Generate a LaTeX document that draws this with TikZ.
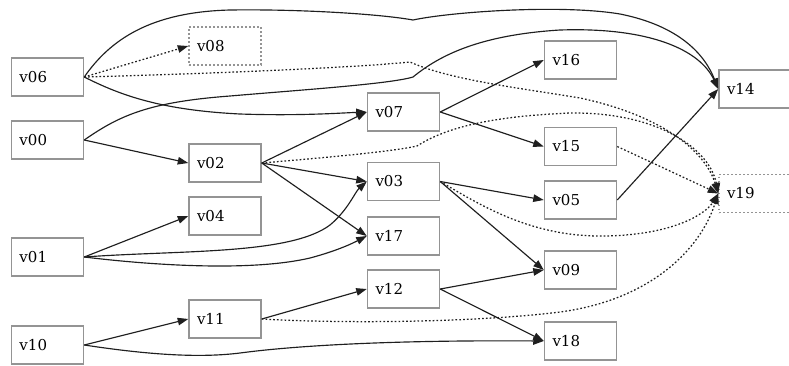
\documentclass[tikz,border=0pt]{standalone}
\usepackage{fontspec}
\setmainfont{DejaVu Serif}
\usetikzlibrary{arrows.meta}
\colorlet{boxline}{black!42}
\colorlet{edgeline}{black!88}
\tikzset{
	vbox/.style={draw=boxline, line width=1.5pt, minimum height=38pt, text width=56pt,
		inner xsep=8pt, inner ysep=0pt, align=left, font=\fontsize{15}{17}\selectfont},
	% nodes that are only reached by weak links
	vghost/.style={vbox, dash pattern=on 1.6pt off 2.4pt},
	link/.style={draw=edgeline, line width=1.15pt, -{Triangle[length=10.5pt, width=7.5pt]}},
	weak/.style={link, line width=1.25pt, dash pattern=on 1.7pt off 2.1pt}
}
\begin{document}
\begin{tikzpicture}[x=1pt, y=-1pt]
	\useasboundingbox (0,0) rectangle (789,365);
	% left column
	\node[vbox] (v06) at (47.5,77) {v06};
	\node[vbox] (v00) at (47.5,140) {v00};
	\node[vbox] (v01) at (47.5,257) {v01};
	\node[vbox] (v10) at (47.5,345) {v10};
	% second column
	\node[vghost] (v08) at (225,46) {v08};
	\node[vbox] (v02) at (225,163) {v02};
	\node[vbox] (v04) at (225,216) {v04};
	\node[vbox] (v11) at (225,319) {v11};
	% third column
	\node[vbox] (v07) at (403.5,112) {v07};
	\node[vbox] (v03) at (403.5,181.5) {v03};
	\node[vbox] (v17) at (403.5,236) {v17};
	\node[vbox] (v12) at (403.5,289) {v12};
	% fourth column
	\node[vbox] (v16) at (580.5,60) {v16};
	\node[vbox] (v15) at (580.5,146.5) {v15};
	\node[vbox] (v05) at (580.5,200) {v05};
	\node[vbox] (v09) at (580.5,270) {v09};
	\node[vbox] (v18) at (580.5,341) {v18};
	% last column
	\node[vbox] (v14) at (755,89) {v14};
	\node[vghost] (v19) at (755,193.5) {v19};

	% solid links
	\path[link] (v06.east) .. controls (110,40) and (150,12) .. (230,10)
		.. controls (300,9) and (380,14) .. (413,20)
		.. controls (450,12) and (560,4) .. (620,14)
		.. controls (680,26) and (705,55) .. (v14.west);
	\path[link] (v00.east) .. controls (120,115) and (150,102) .. (230,96)
		.. controls (300,90) and (390,84) .. (413,77)
		.. controls (440,55) and (480,35) .. (560,30)
		.. controls (650,27) and (700,50) .. (v14.west);
	\path[link] (v06.east) .. controls (120,95) and (160,110) .. (240,114)
		.. controls (300,116) and (340,113) .. (v07.west);
	\path[link] (v00.east) -- (v02.west);
	\path[link] (v02.east) -- (v07.west);
	\path[link] (v02.east) -- (v03.west);
	\path[link] (v02.east) -- (v17.west);
	\path[link] (v07.east) -- (v16.west);
	\path[link] (v07.east) -- (v15.west);
	\path[link] (v03.east) -- (v05.west);
	\path[link] (v03.east) -- (v09.west);
	\path[link] (v05.east) -- (v14.west);
	\path[link] (v01.east) -- (v04.west);
	\path[link] (v01.east) .. controls (180,250) and (290,255) .. (330,225)
		.. controls (348,210) and (355,192) .. (v03.west);
	\path[link] (v01.east) .. controls (150,265) and (250,272) .. (310,258)
		.. controls (340,250) and (355,242) .. (v17.west);
	\path[link] (v10.east) -- (v11.west);
	\path[link] (v10.east) .. controls (150,355) and (200,358) .. (240,353)
		.. controls (300,345) and (400,340) .. (v18.west);
	\path[link] (v11.east) -- (v12.west);
	\path[link] (v12.east) -- (v09.west);
	\path[link] (v12.east) -- (v18.west);

	% weak links
	\path[weak] (v06.east) -- (v08.west);
	\path[weak] (v06.east) .. controls (200,74) and (350,68) .. (410,62)
		.. controls (450,80) and (520,88) .. (580,98)
		.. controls (660,115) and (705,150) .. (v19.west);
	\path[weak] (v02.east) .. controls (320,158) and (390,152) .. (417,146)
		.. controls (450,125) and (500,116) .. (570,113)
		.. controls (660,112) and (710,150) .. (v19.west);
	\path[weak] (v15.east) -- (v19.west);
	\path[weak] (v03.east) .. controls (480,205) and (530,236) .. (600,236)
		.. controls (670,236) and (705,215) .. (v19.west);
	\path[weak] (v11.east) .. controls (350,324) and (480,322) .. (560,312)
		.. controls (650,300) and (700,250) .. (v19.west);
\end{tikzpicture}
\end{document}
